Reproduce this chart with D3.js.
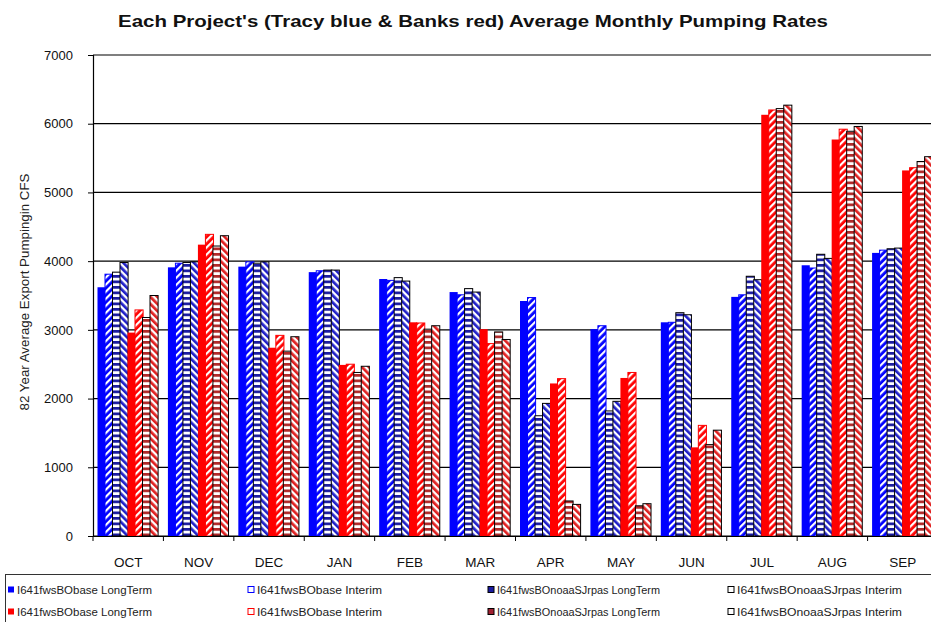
<!DOCTYPE html>
<html>
<head>
<meta charset="utf-8">
<script src="https://cdn.jsdelivr.net/npm/d3@7"></script>
<style>
  html, body { margin: 0; padding: 0; background: #fff; }
  svg { display: block; font-family: "Liberation Sans", Arial, sans-serif; }
</style>
</head>
<body>
<svg id="chart" width="931" height="622"></svg>
<script>
// ---- data ----
const months = ["OCT","NOV","DEC","JAN","FEB","MAR","APR","MAY","JUN","JUL","AUG","SEP"];
const seriesNames = [
  "I641fwsBObase LongTerm", "I641fwsBObase Interim",
  "I641fwsBOnoaaSJrpas LongTerm", "I641fwsBOnoaaSJrpas Interim",
  "I641fwsBObase LongTerm", "I641fwsBObase Interim",
  "I641fwsBOnoaaSJrpas LongTerm", "I641fwsBOnoaaSJrpas Interim"
];
const tracyBaseLongTerm  = [3620, 3910, 3920, 3840, 3740, 3550, 3420, 3010, 3110, 3480, 3940, 4120];
const tracyBaseInterim   = [3810, 3970, 3990, 3860, 3720, 3510, 3470, 3060, 3110, 3510, 3900, 4160];
const tracyNoaaLongTerm  = [3840, 3980, 3970, 3870, 3760, 3600, 1750, 1820, 3250, 3780, 4100, 4180];
const tracyNoaaInterim   = [3980, 3990, 3990, 3870, 3710, 3550, 1930, 1960, 3220, 3730, 4040, 4190];
const banksBaseLongTerm  = [2960, 4240, 2740, 2490, 3110, 3010, 2220, 2300, 1290, 6130, 5770, 5320];
const banksBaseInterim   = [3290, 4390, 2920, 2500, 3100, 2800, 2290, 2380, 1610, 6200, 5920, 5360];
const banksNoaaLongTerm  = [3180, 4220, 2690, 2380, 3010, 2970,  510,  440, 1330, 6220, 5890, 5450];
const banksNoaaInterim   = [3500, 4370, 2900, 2470, 3060, 2860,  460,  470, 1540, 6270, 5960, 5520];
const yTicks = [0, 1000, 2000, 3000, 4000, 5000, 6000, 7000];

const seriesValues = [tracyBaseLongTerm, tracyBaseInterim, tracyNoaaLongTerm, tracyNoaaInterim,
                      banksBaseLongTerm, banksBaseInterim, banksNoaaLongTerm, banksNoaaInterim];

// ---- styles ----
const BLUE = "#0000ff", RED = "#ff0000";
const styles = [
  {fill: BLUE, stroke: "none"},
  {fill: "url(#pBlue2)", stroke: BLUE},
  {fill: "url(#pBlue3)", stroke: "#000"},
  {fill: "url(#pBlue4)", stroke: "#000"},
  {fill: RED, stroke: "none"},
  {fill: "url(#pRed2)", stroke: RED},
  {fill: "url(#pRed3)", stroke: "#000"},
  {fill: "url(#pRed4)", stroke: "#000"}
];

const svg = d3.select("#chart");
const defs = svg.append("defs");

function diag(id, bg, fg, angle, w) {
  const p = defs.append("pattern").attr("id", id).attr("patternUnits", "userSpaceOnUse")
    .attr("width", 5).attr("height", 5).attr("patternTransform", `rotate(${angle})`);
  p.append("rect").attr("width", 5).attr("height", 5).attr("fill", bg);
  p.append("rect").attr("width", w).attr("height", 5).attr("fill", fg);
}
function horiz(id, bg, fg) {
  const p = defs.append("pattern").attr("id", id).attr("patternUnits", "userSpaceOnUse")
    .attr("width", 6).attr("height", 5.5);
  p.append("rect").attr("width", 6).attr("height", 5.5).attr("fill", bg);
  p.append("rect").attr("width", 6).attr("height", 2.7).attr("fill", fg);
}
diag("pBlue2", BLUE, "#ffffff", 45, 2.2);
horiz("pBlue3", "#ffffff", "#1a1aa0");
diag("pBlue4", "#ffffff", "#2020c8", -45, 2.7);
diag("pRed2", RED, "#ffffff", 45, 2.2);
horiz("pRed3", "#ffffff", "#b02828");
diag("pRed4", "#ffffff", "#e02020", -45, 2.7);

// ---- scales ----
const x = d3.scaleBand().domain(months).range([93, 938]).padding(0);
const inner = d3.scaleBand().domain(d3.range(8)).range([4.5, 64.5]).padding(0);
const y = d3.scaleLinear().domain([0, 7000]).range([536, 55]);

// gridlines
svg.append("g").selectAll("line").data(yTicks).join("line")
  .attr("x1", 93).attr("x2", 931)
  .attr("y1", d => y(d)).attr("y2", d => y(d))
  .attr("stroke", "#000").attr("stroke-width", 1.2);

// bars
seriesValues.forEach((vals, si) => {
  svg.append("g").selectAll("rect").data(vals).join("rect")
    .attr("x", (d, i) => x(months[i]) + inner(si))
    .attr("width", inner.bandwidth() + 0.6)
    .attr("y", d => y(d))
    .attr("height", d => y(0) - y(d))
    .attr("fill", styles[si].fill)
    .attr("stroke", styles[si].stroke)
    .attr("stroke-width", styles[si].stroke === "none" ? 0 : 1);
});

// y axis
const yAxis = svg.append("g").attr("transform", "translate(93,0)")
  .call(d3.axisLeft(y).tickValues(yTicks).tickSize(5).tickPadding(15).tickFormat(d3.format("d")));
yAxis.select(".domain").attr("stroke", "#000").attr("stroke-width", 1.2);
yAxis.selectAll(".tick line").attr("stroke", "#000");
yAxis.selectAll("text").attr("font-size", 13).attr("fill", "#111")
  .attr("font-family", "Liberation Sans Narrow, Liberation Sans, Arial, sans-serif");

// x axis
const xAxis = svg.append("g").attr("transform", "translate(0,536)")
  .call(d3.axisBottom(x).tickSize(0).tickPadding(21));
xAxis.select(".domain").attr("stroke", "#000").attr("stroke-width", 1.2);
xAxis.selectAll("text").attr("font-size", 13.5).attr("fill", "#111")
  .attr("font-family", "Liberation Sans, Arial, sans-serif");
svg.append("g").selectAll("line").data(months).join("line")
  .attr("x1", d => x(d)).attr("x2", d => x(d))
  .attr("y1", 536).attr("y2", 541).attr("stroke", "#000");

// title
svg.append("text").attr("x", 118).attr("y", 27)
  .attr("font-size", 17).attr("font-weight", "bold").attr("fill", "#111")
  .attr("font-family", "Liberation Sans Narrow, Liberation Sans, Arial, sans-serif")
  .attr("textLength", 710).attr("lengthAdjust", "spacingAndGlyphs")
  .text("Each Project's (Tracy blue & Banks red) Average Monthly Pumping Rates");

// y title
svg.append("text").attr("transform", "translate(29,292) rotate(-90)")
  .attr("text-anchor", "middle").attr("font-size", 12.5).attr("fill", "#222")
  .attr("textLength", 237).attr("lengthAdjust", "spacingAndGlyphs")
  .text("82 Year Average Export Pumpingin CFS");

// legend
svg.append("rect").attr("x", 5.5).attr("y", 574.5).attr("width", 940).attr("height", 60)
  .attr("fill", "#fff").attr("stroke", "#333").attr("stroke-width", 1);
const legX = [8, 248, 488, 728];
const legLen = [135, 125, 163, 165];
const legFill = [BLUE, "#fff", "#1a1aa0", "#fff", RED, "#fff", "#a02030", "#fff"];
const legStroke = ["none", BLUE, "#000", "#000", "none", RED, "#000", "#000"];
const legend = svg.append("g");
seriesNames.forEach((name, i) => {
  const col = i % 4, row = Math.floor(i / 4);
  const gy = row === 0 ? 590 : 612;
  legend.append("rect").attr("x", legX[col]).attr("y", gy - 3.5).attr("width", 6).attr("height", 6)
    .attr("fill", legFill[i]).attr("stroke", legStroke[i]).attr("stroke-width", 1);
  legend.append("text").attr("x", legX[col] + 9).attr("y", gy + 3.5)
    .attr("font-size", 10).attr("fill", "#222")
    .attr("font-family", "Liberation Sans Narrow, Liberation Sans, Arial, sans-serif")
    .attr("textLength", legLen[col]).attr("lengthAdjust", "spacingAndGlyphs")
    .text(name);
});
</script>
</body>
</html>
